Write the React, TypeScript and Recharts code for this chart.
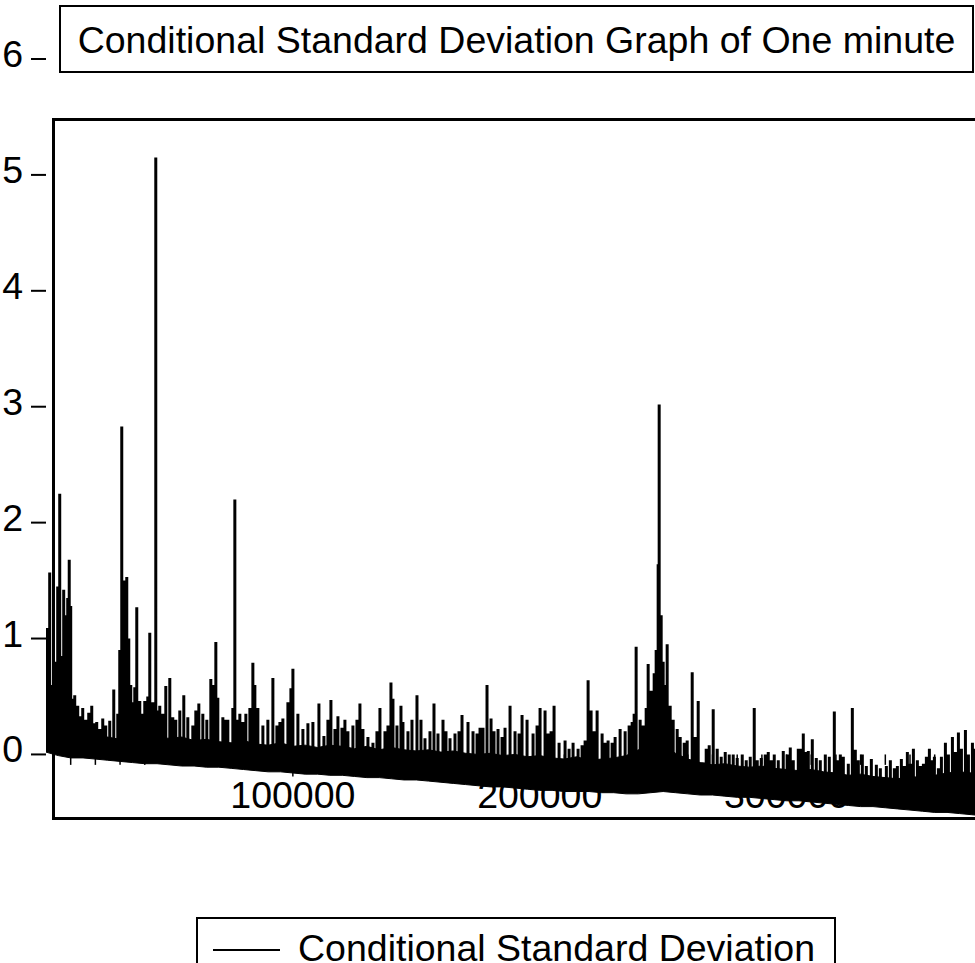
import {
    Area,
    ComposedChart,
    Line,
    ReferenceLine,
    XAxis,
    YAxis,
} from "recharts";

// dense band of the series: lower / upper edge, one reading every 5000 obs
const bandStep = 5000;
const bandLow = [
    0.02, -0.01, -0.03, -0.03, -0.04, -0.05, -0.06, -0.07, -0.08, -0.08,
    -0.09, -0.10, -0.10, -0.11, -0.11, -0.12, -0.13, -0.14, -0.15, -0.15,
    -0.16, -0.17, -0.17, -0.18, -0.18, -0.19, -0.20, -0.20, -0.21, -0.22,
    -0.22, -0.23, -0.24, -0.25, -0.26, -0.27, -0.28, -0.28, -0.29, -0.30,
    -0.31, -0.31, -0.32, -0.32, -0.32, -0.33, -0.33, -0.34, -0.34, -0.33,
    -0.32, -0.33, -0.34, -0.35, -0.35, -0.36, -0.37, -0.37, -0.38, -0.39,
    -0.40, -0.40, -0.41, -0.42, -0.43, -0.44, -0.45, -0.45, -0.46, -0.47,
    -0.48, -0.49, -0.50, -0.50, -0.51, -0.52, -0.53,
];
const bandHigh = [
    0.30, 0.35, 0.25, 0.20, 0.16, 0.15, 0.13, 0.22, 0.18, 0.14,
    0.14, 0.15, 0.12, 0.13, 0.11, 0.10, 0.12, 0.09, 0.08, 0.10,
    0.07, 0.08, 0.06, 0.08, 0.07, 0.05, 0.07, 0.04, 0.06, 0.04,
    0.03, 0.04, 0.02, 0.03, 0.01, 0.00, 0.01, -0.01, 0.00, -0.02,
    -0.01, -0.03, -0.04, -0.02, -0.05, -0.04, -0.03, -0.01, 0.04, 0.10,
    0.08, 0.01, -0.04, -0.07, -0.09, -0.08, -0.10, -0.11, -0.10, -0.12,
    -0.13, -0.14, -0.13, -0.15, -0.16, -0.18, -0.17, -0.19, -0.20, -0.21,
    -0.19, -0.20, -0.18, -0.16, -0.15, -0.16, -0.18,
];

// spikes sticking out of the band: observation number and peak value
const spikeX = [
    0, 280, 890, 1500, 2310, 3120, 3930, 4740, 5560, 6360,
    7170, 7990, 8800, 9410, 10010, 10820, 11640, 12850, 14070, 14880,
    16100, 17310, 18530, 19740, 20550, 21770, 22990, 24200, 25820, 27450,
    29070, 29880, 30690, 31300, 31900, 32720, 33530, 34340, 35150, 35960,
    36770, 37990, 39200, 40010, 41230, 42040, 43260, 44470, 45280, 46090,
    47310, 48530, 50150, 51360, 52580, 54200, 55820, 57450, 59470, 60690,
    61910, 63530, 65150, 66770, 67580, 68800, 69610, 71640, 72850, 73660,
    75690, 76500, 77720, 78530, 79750, 80960, 82590, 83800, 84610, 85830,
    87860, 89880, 91910, 93530, 94750, 95960, 97990, 99210, 100020, 102040,
    104070, 106100, 108120, 110560, 112580, 114200, 115420, 117040, 118260, 119880,
    121090, 122310, 124330, 125960, 127170, 128390, 130410, 132440, 134060, 135280,
    137310, 138520, 139740, 140550, 142170, 143790, 144600, 146630, 148250, 150280,
    151900, 153520, 155550, 157170, 158790, 160820, 162030, 163660, 165680, 167300,
    168520, 170950, 172980, 174600, 175820, 177030, 178650, 180280, 181490, 183110,
    184740, 185950, 187980, 190000, 191620, 192840, 194870, 197300, 198920, 200140,
    202160, 203380, 204600, 205810, 207840, 210270, 211890, 213510, 215540, 217160,
    218380, 219600, 220810, 222030, 223250, 225270, 226490, 227700, 229330, 230540,
    232570, 234600, 236220, 237440, 238250, 239060, 240680, 241900, 243120, 243930,
    245140, 246360, 247170, 247980, 248390, 249200, 250010, 250820, 251630, 252850,
    254070, 255690, 256910, 258530, 259740, 261770, 262990, 264200, 266230, 267440,
    268660, 270280, 271900, 273520, 275150, 276770, 278390, 280010, 282040, 283660,
    285280, 286900, 288120, 289740, 291360, 292580, 293800, 295010, 296640, 298660,
    300280, 301500, 302720, 304740, 305960, 306770, 307990, 308800, 310420, 312040,
    313660, 315690, 317310, 319340, 320550, 321770, 322990, 325010, 326640, 327850,
    329070, 330690, 332310, 334340, 336370, 337990, 340420, 342040, 343660, 344880,
    346500, 347720, 348930, 350150, 351370, 352990, 354200, 355420, 356630, 357850,
    359070, 359880, 361500, 362720, 364340, 365560, 367180, 368390, 369610, 370830,
    372450, 373670, 375290, 376100,
];
const spikeTop = [
    0.40, 1.09, 0.45, 1.57, 0.60, 0.50, 0.80, 1.45, 2.25, 0.85,
    1.42, 1.20, 1.35, 1.68, 1.28, 0.48, 0.51, 0.42, 0.33, 0.40,
    0.30, 0.36, 0.42, 0.27, 0.28, 0.22, 0.31, 0.25, 0.29, 0.56,
    0.35, 0.90, 2.83, 1.20, 1.50, 1.53, 1.00, 0.60, 0.45, 0.58,
    1.27, 0.46, 0.35, 0.46, 0.50, 1.05, 0.45, 5.15, 0.38, 0.42,
    0.35, 0.59, 0.66, 0.32, 0.30, 0.38, 0.51, 0.32, 0.25, 0.38,
    0.44, 0.35, 0.30, 0.65, 0.60, 0.97, 0.49, 0.32, 0.30, 0.30,
    0.40, 2.20, 0.30, 0.35, 0.28, 0.35, 0.40, 0.79, 0.60, 0.40,
    0.25, 0.30, 0.66, 0.25, 0.28, 0.31, 0.45, 0.57, 0.74, 0.35,
    0.22, 0.27, 0.28, 0.44, 0.16, 0.30, 0.47, 0.22, 0.33, 0.23,
    0.30, 0.20, 0.25, 0.30, 0.44, 0.22, 0.15, 0.10, 0.20, 0.40,
    0.20, 0.25, 0.62, 0.48, 0.25, 0.42, 0.28, 0.20, 0.30, 0.51,
    0.30, 0.14, 0.20, 0.44, 0.18, 0.30, 0.20, 0.14, 0.18, 0.20,
    0.34, 0.28, 0.20, 0.18, 0.23, 0.23, 0.60, 0.31, 0.20, 0.22,
    0.15, 0.23, 0.42, 0.20, 0.18, 0.34, 0.30, 0.18, 0.25, 0.40,
    0.38, 0.18, 0.20, 0.42, 0.10, 0.12, 0.05, 0.10, 0.05, 0.08,
    0.12, 0.64, 0.38, 0.20, 0.38, 0.18, 0.10, 0.12, 0.10, 0.15,
    0.22, 0.20, 0.25, 0.28, 0.35, 0.93, 0.30, 0.25, 0.40, 0.78,
    0.55, 0.70, 0.90, 1.64, 3.02, 1.20, 0.80, 0.60, 0.95, 0.42,
    0.30, 0.22, 0.15, 0.10, 0.12, 0.71, 0.15, 0.46, -0.07, 0.05,
    0.08, 0.39, 0.05, -0.02, 0.02, 0.00, 0.00, -0.03, 0.00, -0.05,
    -0.02, 0.40, -0.05, -0.03, 0.00, 0.02, -0.05, 0.00, -0.05, 0.03,
    0.00, 0.06, -0.05, 0.05, 0.05, 0.18, 0.02, 0.03, 0.13, -0.03,
    -0.05, 0.00, -0.02, 0.37, -0.05, 0.00, -0.02, -0.08, 0.40, 0.04,
    -0.05, 0.00, -0.10, -0.04, -0.09, -0.12, -0.10, -0.05, -0.12, -0.10,
    -0.04, -0.10, 0.02, -0.08, 0.05, -0.05, -0.10, -0.08, -0.02, 0.05,
    -0.05, -0.02, -0.12, -0.02, 0.10, 0.00, 0.15, 0.02, 0.19, 0.05,
    0.21, 0.00, 0.10, 0.05,
];

const yTicks = [0, 1, 2, 3, 4, 5, 6];
const xLabels = [100000, 200000, 300000];
const xMinorTicks = [
    10000, 20000, 30000, 40000, 50000, 60000, 70000, 80000, 90000, 100000,
    110000, 120000, 130000, 140000, 150000, 160000, 170000, 180000, 190000, 200000,
    210000, 220000, 230000, 240000, 250000, 260000, 270000, 280000, 290000, 300000,
    310000, 320000, 330000, 340000, 350000, 360000, 370000,
];

const FONT = '"Liberation Sans", Arial, sans-serif';
const FS = 37.5;

const bandData = bandLow.map((low, i) => ({
    x: i * bandStep,
    low,
    high: bandHigh[i],
}));

const spikeData = spikeX.flatMap((x, i) => {
    const idx = Math.min(bandLow.length - 1, Math.round(x / bandStep));
    return [
        { x, y: bandLow[idx] + 0.03 },
        { x, y: spikeTop[i] },
        { x, y: null },
    ];
});

function YTick(props: any) {
    const { x, y, payload } = props;
    return (
        <text x={x} y={y} dy={8} textAnchor="end" fontSize={FS} fontFamily={FONT} fill="#000">
            {payload.value}
        </text>
    );
}

function XTick(props: any) {
    const { x, y, payload } = props;
    return (
        <text x={x} y={y} dy={-11} textAnchor="middle" fontSize={FS} fontFamily={FONT} fill="#000">
            {payload.value}
        </text>
    );
}

export default function App() {
    return (
        <div
            style={{
                position: "fixed",
                left: 0,
                top: 0,
                width: 975,
                height: 963,
                overflow: "hidden",
                background: "#fff",
                fontFamily: FONT,
            }}
        >
            {/* title box */}
            <div
                style={{
                    position: "absolute",
                    left: 59,
                    top: 5,
                    width: 915,
                    height: 68,
                    border: "2px solid #000",
                    boxSizing: "border-box",
                }}
            >
                <div
                    style={{
                        position: "absolute",
                        left: 0,
                        right: 0,
                        top: 14.6,
                        textAlign: "center",
                        fontSize: FS,
                        lineHeight: 1,
                        whiteSpace: "nowrap",
                    }}
                >
                    Conditional Standard Deviation Graph of One minute
                </div>
            </div>

            {/* plot frame */}
            <div
                style={{
                    position: "absolute",
                    left: 52,
                    top: 118,
                    width: 960,
                    height: 702,
                    border: "3px solid #000",
                    boxSizing: "border-box",
                }}
            />

            <div style={{ position: "absolute", left: 0, top: 0 }}>
                <ComposedChart
                    width={1000}
                    height={963}
                    margin={{ top: 59, right: 11, bottom: 114, left: 0 }}
                >
                    <XAxis
                        dataKey="x"
                        type="number"
                        domain={[0, 382000]}
                        allowDataOverflow
                        ticks={xLabels}
                        interval={0}
                        tick={<XTick />}
                        tickLine={false}
                        tickSize={0}
                        tickMargin={0}
                        axisLine={false}
                        height={30}
                    />
                    <YAxis
                        type="number"
                        domain={[-0.557, 6]}
                        allowDataOverflow
                        ticks={yTicks}
                        interval={0}
                        width={46}
                        tick={<YTick />}
                        tickSize={15}
                        tickMargin={8}
                        tickLine={{ stroke: "#000", strokeWidth: 2 }}
                        axisLine={false}
                    />

                    {xMinorTicks.map((t) => (
                        <ReferenceLine
                            key={t}
                            segment={[
                                { x: t, y: 0 },
                                { x: t, y: t % 100000 === 0 ? -0.19 : -0.09 },
                            ]}
                            stroke="#000"
                            strokeWidth={1.5}
                        />
                    ))}

                    <Area
                        data={bandData}
                        dataKey={(d: any) => [d.low, d.high]}
                        type="linear"
                        stroke="#000"
                        strokeWidth={1}
                        fill="#000"
                        fillOpacity={1}
                        dot={false}
                        activeDot={false}
                        isAnimationActive={false}
                    />
                    <Line
                        data={spikeData}
                        dataKey="y"
                        type="linear"
                        stroke="#000"
                        strokeWidth={3}
                        dot={false}
                        activeDot={false}
                        connectNulls={false}
                        isAnimationActive={false}
                    />
                </ComposedChart>
            </div>

            {/* legend */}
            <div
                style={{
                    position: "absolute",
                    left: 196,
                    top: 917,
                    width: 640,
                    height: 80,
                    border: "2px solid #000",
                    boxSizing: "border-box",
                }}
            >
                <div
                    style={{
                        position: "absolute",
                        left: 15,
                        top: 30,
                        width: 67,
                        height: 2,
                        background: "#000",
                    }}
                />
                <div
                    style={{
                        position: "absolute",
                        left: 100,
                        top: 11.3,
                        fontSize: FS,
                        lineHeight: 1,
                        whiteSpace: "nowrap",
                    }}
                >
                    Conditional Standard Deviation
                </div>
            </div>
        </div>
    );
}
